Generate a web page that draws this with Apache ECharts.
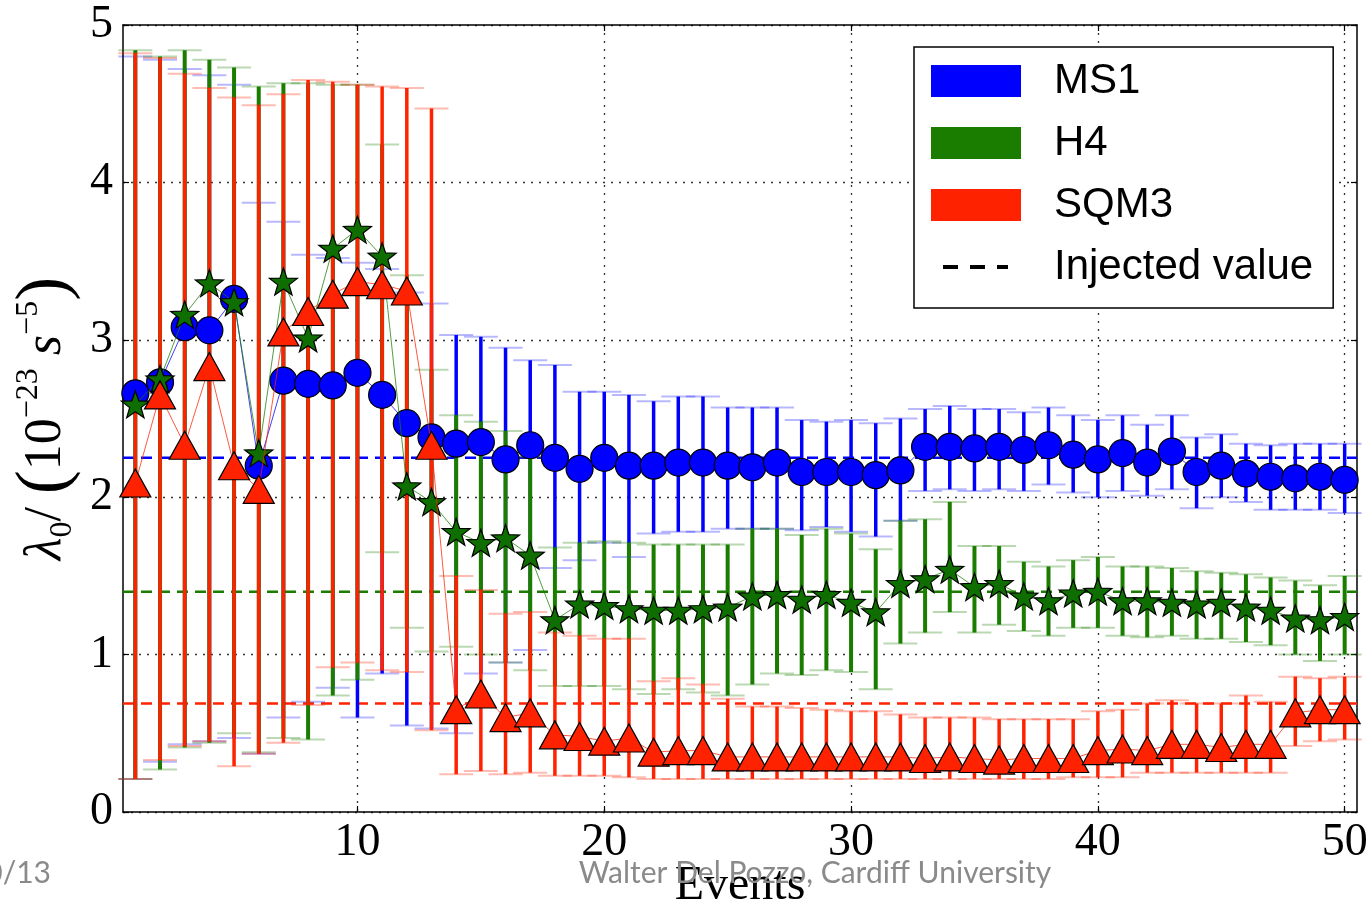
<!DOCTYPE html>
<html>
<head>
<meta charset="utf-8">
<title>lambda0 vs events</title>
<script src="https://cdn.jsdelivr.net/npm/echarts@6/dist/echarts.min.js"></script>
<style>
  html, body { margin: 0; padding: 0; background: #fff; }
  #chart { width: 1369px; height: 903px; }
</style>
</head>
<body>
<div id="chart"></div>
<script>
var events = [1,2,3,4,5,6,7,8,9,10, 11,12,13,14,15,16,17,18,19,20, 21,22,23,24,25,26,27,28,29,30,
              31,32,33,34,35,36,37,38,39,40, 41,42,43,44,45,46,47,48,49,50];

// MS1 (blue circles): centre, lower and upper ends of the bar
var ms1   = [2.66,2.73,3.08,3.06,3.26,2.20,2.74,2.72,2.71,2.79, 2.65,2.47,2.38,2.34,2.35,2.24,2.33,2.25,2.18,2.25,
             2.20,2.20,2.22,2.22,2.20,2.19,2.22,2.16,2.16,2.16, 2.14,2.17,2.32,2.32,2.31,2.32,2.30,2.33,2.27,2.24,
             2.28,2.22,2.29,2.16,2.20,2.15,2.13,2.12,2.13,2.11];
var ms1Lo = [0.21,0.32,0.43,0.45,0.47,0.37,0.60,0.70,0.79,0.60, 0.88,0.55,0.53,0.50,0.88,0.95,1.03,1.55,1.60,1.71,
             1.62,1.77,1.78,1.78,1.80,1.80,1.80,1.79,1.81,1.78, 1.75,1.85,2.04,2.05,2.04,2.05,2.04,2.08,2.03,2.00,
             2.04,2.01,2.05,1.93,2.00,1.97,1.92,1.92,1.92,1.90];
var ms1Hi = [4.80,4.78,4.72,4.68,4.62,3.87,3.75,3.54,3.52,3.49, 3.45,3.30,3.23,3.03,3.02,2.95,2.87,2.84,2.67,2.67,
             2.65,2.61,2.64,2.64,2.57,2.57,2.57,2.49,2.48,2.49, 2.47,2.50,2.56,2.58,2.56,2.56,2.54,2.57,2.52,2.49,
             2.52,2.46,2.52,2.38,2.40,2.34,2.33,2.34,2.34,2.34];

// H4 (green stars)
var h4    = [2.59,2.75,3.16,3.36,3.24,2.28,3.37,3.01,3.58,3.70, 3.53,2.07,1.97,1.78,1.71,1.74,1.63,1.22,1.32,1.31,
             1.29,1.28,1.28,1.29,1.30,1.37,1.38,1.35,1.38,1.33, 1.27,1.45,1.48,1.54,1.43,1.45,1.37,1.34,1.39,1.40,
             1.34,1.34,1.33,1.32,1.33,1.30,1.28,1.23,1.22,1.24];
var h4Lo  = [0.21,0.27,0.41,0.44,0.50,0.38,0.47,0.46,0.74,0.84, 1.65,1.17,1.02,1.05,1.00,0.95,0.90,0.80,0.80,0.80,
             0.78,0.75,0.78,0.76,0.74,0.81,0.88,0.87,0.90,0.89, 0.78,1.07,1.14,1.27,1.14,1.19,1.15,1.12,1.17,1.17,
             1.12,1.11,1.12,1.10,1.10,1.08,1.06,1.00,0.96,1.00];
var h4Hi  = [4.84,4.80,4.84,4.78,4.73,4.61,4.63,4.63,4.62,4.62, 4.24,3.41,2.81,2.52,2.48,2.42,2.25,1.68,1.71,1.72,
             1.71,1.70,1.70,1.70,1.70,1.80,1.80,1.76,1.80,1.77, 1.67,1.85,1.86,1.97,1.69,1.69,1.59,1.56,1.60,1.62,
             1.56,1.56,1.55,1.53,1.52,1.51,1.49,1.47,1.44,1.50];

// SQM3 (red triangles)
var sqm3   = [2.09,2.65,2.33,2.83,2.20,2.05,3.05,3.18,3.29,3.37, 3.35,3.31,2.33,0.65,0.75,0.60,0.63,0.49,0.48,0.45,
              0.47,0.38,0.39,0.39,0.35,0.35,0.35,0.35,0.35,0.35, 0.35,0.35,0.34,0.35,0.34,0.33,0.34,0.34,0.34,0.39,
              0.40,0.39,0.43,0.43,0.41,0.43,0.43,0.63,0.65,0.65];
var sqm3Lo = [0.21,0.33,0.42,0.45,0.29,0.37,0.44,0.68,0.92,0.95, 0.90,0.89,0.52,0.24,0.26,0.24,0.25,0.23,0.23,0.23,
              0.22,0.21,0.21,0.21,0.21,0.21,0.21,0.21,0.21,0.21, 0.21,0.21,0.21,0.21,0.21,0.21,0.21,0.21,0.22,0.22,
              0.22,0.25,0.25,0.25,0.25,0.25,0.25,0.42,0.45,0.46];
var sqm3Hi = [4.82,4.79,4.69,4.60,4.54,4.49,4.56,4.65,4.64,4.62, 4.61,4.60,4.47,1.50,1.41,1.26,1.27,1.14,1.12,1.10,
              1.10,0.83,0.85,0.81,0.72,0.67,0.67,0.66,0.65,0.64, 0.64,0.62,0.60,0.60,0.60,0.59,0.59,0.59,0.59,0.64,
              0.65,0.69,0.71,0.69,0.69,0.74,0.70,0.86,0.85,0.86];

// injected values for MS1, H4, SQM3
var injected = [2.25, 1.40, 0.69];

var xTicks = [10, 20, 30, 40, 50];

var blue = '#0000ff', green = '#1a7d00', red = '#ff2200';
var colors = [blue, green, red];
var capColors = ['rgba(0,0,255,0.28)', 'rgba(26,125,0,0.3)', 'rgba(255,34,0,0.3)'];
var serif = '"Liberation Serif", "DejaVu Serif", serif';
var sans = '"Liberation Sans", Arial, sans-serif';
var star = 'path://M50,2L61.46,34.22L95.65,35.17L68.55,56.03L78.21,88.83L50,69.5L21.79,88.83L31.45,56.03L4.35,35.17L38.54,34.22Z';
var dashIcon = 'path://M0,0L0.01,0M12,14H27V18H12ZM39,14H54V18H39ZM66,14H77V18H66ZM90,32L89.99,32';

var points = function (vals) {
    return vals.map(function (v, i) { return [events[i], v]; });
};
var ranges = function (lo, hi) {
    return lo.map(function (v, i) { return [events[i], v, hi[i]]; });
};

var errorBars = function (k, width) {
    return function (params, api) {
        var x = api.value(0);
        var top = api.coord([x, api.value(2)]);
        var bot = api.coord([x, api.value(1)]);
        var w = 17;
        return {
            type: 'group',
            children: [
                {type: 'line', shape: {x1: top[0] - w, y1: top[1], x2: top[0] + w, y2: top[1]},
                 style: {stroke: capColors[k], lineWidth: 2}},
                {type: 'line', shape: {x1: bot[0] - w, y1: bot[1], x2: bot[0] + w, y2: bot[1]},
                 style: {stroke: capColors[k], lineWidth: 2}},
                {type: 'line', shape: {x1: top[0], y1: top[1], x2: bot[0], y2: bot[1]},
                 style: {stroke: colors[k], lineWidth: width}}
            ]
        };
    };
};

var injectedLines = function (params, api) {
    var c = params.coordSys;
    var y = api.coord([1, api.value(0)])[1];
    return {
        type: 'line',
        shape: {x1: c.x, y1: y, x2: c.x + c.width, y2: y},
        style: {stroke: colors[api.value(1)], lineWidth: 2.5, lineDash: [11, 7]}
    };
};

var names = ['MS1', 'H4', 'SQM3'];
var symbols = ['circle', star, 'triangle'];
var sizes = [27, [28, 27], [31, 28]];
var fills = [blue, '#0f6e00', red];
var mid = [ms1, h4, sqm3];
var lows = [ms1Lo, h4Lo, sqm3Lo];
var highs = [ms1Hi, h4Hi, sqm3Hi];

var series = [{
    name: 'Injected value',
    type: 'custom',
    renderItem: injectedLines,
    data: injected.map(function (v, i) { return [v, i]; }),
    encode: {y: 0},
    silent: true,
    z: 1
}];
names.forEach(function (n, k) {
    series.push({
        name: n,
        type: 'custom',
        renderItem: errorBars(k, k === 1 ? 4 : 3.5),
        data: ranges(lows[k], highs[k]),
        encode: {x: 0, y: [1, 2]},
        silent: true,
        z: 2 + k
    });
});
names.forEach(function (n, k) {
    series.push({
        name: n,
        type: 'line',
        data: points(mid[k]),
        symbol: symbols[k],
        symbolSize: sizes[k],
        itemStyle: {color: fills[k], borderColor: '#000', borderWidth: 1.2},
        lineStyle: {color: colors[k], width: 1, opacity: 0.75},
        silent: true,
        z: 6 + k
    });
});

var option = {
    animation: false,
    backgroundColor: '#fff',
    grid: {left: 123, right: 12, top: 25, bottom: 91, outerBoundsMode: 'none'},
    legend: {
        orient: 'vertical',
        left: 914,
        top: 47,
        padding: [13, 20, 20, 17],
        itemGap: 20,
        itemWidth: 90,
        itemHeight: 32,
        backgroundColor: '#fff',
        borderColor: '#000',
        borderWidth: 1.5,
        borderRadius: 0,
        selectedMode: false,
        textStyle: {fontFamily: sans, fontSize: 42, color: '#000', padding: [0, 0, 0, 28]},
        data: [
            {name: 'MS1', icon: 'rect', itemStyle: {color: blue, borderWidth: 0}},
            {name: 'H4', icon: 'rect', itemStyle: {color: green, borderWidth: 0}},
            {name: 'SQM3', icon: 'rect', itemStyle: {color: red, borderWidth: 0}},
            {name: 'Injected value', icon: dashIcon, itemStyle: {color: '#000', borderWidth: 0}}
        ]
    },
    xAxis: [{
        type: 'value',
        min: 0.5,
        max: 50.5,
        position: 'bottom',
        name: 'Events',
        nameLocation: 'middle',
        nameGap: 50,
        nameMoveOverlap: false,
        nameTextStyle: {fontFamily: serif, fontSize: 48, color: '#000'},
        axisLine: {show: true, onZero: false, lineStyle: {color: '#000', width: 1.5}},
        axisTick: {show: true, inside: true, length: 6, customValues: xTicks, lineStyle: {color: '#000', width: 1.2}},
        axisLabel: {customValues: xTicks, fontFamily: serif, fontSize: 46, color: '#000', margin: 8},
        splitLine: {show: true, lineStyle: {color: '#333', width: 1.3, type: [2, 6]}}
    }, {
        type: 'value',
        min: 0.5,
        max: 50.5,
        position: 'top',
        axisLine: {show: true, onZero: false, lineStyle: {color: '#000', width: 1.5}},
        axisTick: {show: true, inside: true, length: 6, customValues: xTicks, lineStyle: {color: '#000', width: 1.2}},
        axisLabel: {show: false},
        splitLine: {show: false}
    }],
    yAxis: [{
        type: 'value',
        min: 0,
        max: 5,
        interval: 1,
        position: 'left',
        name: '{m|λ}{s|0}{r|/ }{p|(}{r|10}{u|−23}{m| s}{u|−5}{p|)}',
        nameLocation: 'middle',
        nameGap: 44,
        nameMoveOverlap: false,
        nameTextStyle: {
            fontFamily: serif, fontSize: 52, color: '#000',
            rich: {
                m: {fontFamily: serif, fontStyle: 'italic', fontSize: 52, lineHeight: 66, color: '#000'},
                r: {fontFamily: serif, fontSize: 52, lineHeight: 66, color: '#000'},
                s: {fontFamily: serif, fontSize: 32, lineHeight: 30, verticalAlign: 'bottom', color: '#000'},
                u: {fontFamily: serif, fontSize: 32, lineHeight: 32, verticalAlign: 'top', color: '#000'},
                p: {fontFamily: serif, fontSize: 72, lineHeight: 66, color: '#000'}
            }
        },
        axisLine: {show: true, onZero: false, lineStyle: {color: '#000', width: 1.5}},
        axisTick: {show: true, inside: true, length: 6, lineStyle: {color: '#000', width: 1.2}},
        axisLabel: {fontFamily: serif, fontSize: 46, color: '#000', margin: 10},
        splitLine: {show: true, lineStyle: {color: '#333', width: 1.3, type: [2, 6]}}
    }, {
        type: 'value',
        min: 0,
        max: 5,
        interval: 1,
        position: 'right',
        axisLine: {show: true, onZero: false, lineStyle: {color: '#000', width: 1.5}},
        axisTick: {show: true, inside: true, length: 6, lineStyle: {color: '#000', width: 1.2}},
        axisLabel: {show: false},
        splitLine: {show: false}
    }],
    graphic: [
        {type: 'text', x: 51, y: 873, z: 100, silent: true,
         style: {text: '10/13', font: '30px Lato, "Open Sans", sans-serif', fill: '#8a8a8a', textAlign: 'right', textVerticalAlign: 'middle'}},
        {type: 'text', x: 815, y: 873, z: 100, silent: true,
         style: {text: 'Walter Del Pozzo, Cardiff University', font: '30px Lato, "Open Sans", sans-serif', fill: '#8a8a8a', textAlign: 'center', textVerticalAlign: 'middle'}}
    ],
    series: series
};

var myChart = echarts.init(document.getElementById('chart'));
myChart.setOption(option);
</script>
</body>
</html>
